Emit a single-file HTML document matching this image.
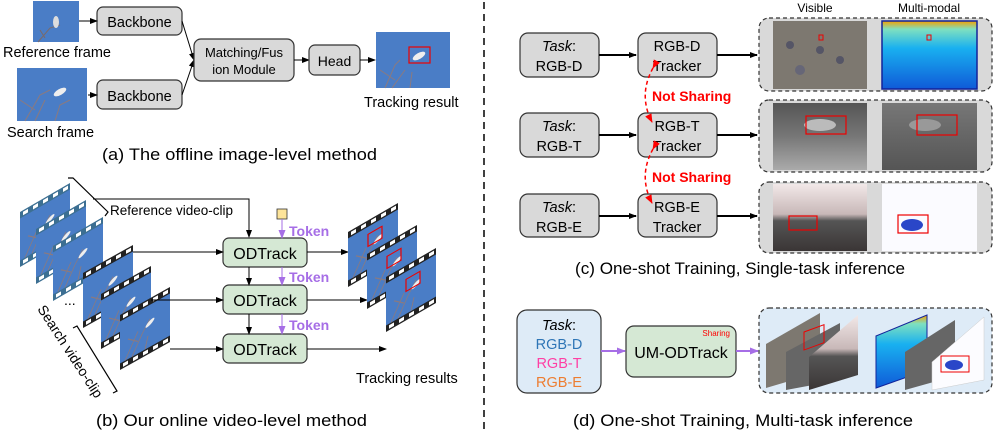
<!DOCTYPE html>
<html><head><meta charset="utf-8"><style>
html,body{margin:0;padding:0;background:#fff;}
svg{display:block;font-family:"Liberation Sans",sans-serif;}
</style></head><body>
<svg width="996" height="433" viewBox="0 0 996 433" xmlns="http://www.w3.org/2000/svg">
<defs>
<marker id="ah" markerWidth="8" markerHeight="8" refX="7" refY="4" orient="auto" markerUnits="userSpaceOnUse"><path d="M0,1 L8,4 L0,7z" fill="#000"/></marker>
<marker id="ahp" markerWidth="9" markerHeight="9" refX="8" refY="4.5" orient="auto" markerUnits="userSpaceOnUse"><path d="M0,1 L9,4.5 L0,8z" fill="#a66ee6"/></marker>
<marker id="ahr" markerWidth="9" markerHeight="9" refX="8" refY="4.5" orient="auto" markerUnits="userSpaceOnUse"><path d="M0,1 L9,4.5 L0,8z" fill="#f00"/></marker>
<g id="sky">
<rect width="50" height="42" fill="#4a7dc6"/>
<path d="M5,42 L18,20 M12,42 L22,25 L30,14 M18,30 L8,22 M25,42 L28,30" stroke="#8a7a80" stroke-width="1" fill="none"/>
<ellipse cx="30" cy="18" rx="5" ry="2" fill="#eee" transform="rotate(-30 30 18)"/>
</g>
<g id="filmR">
<rect width="50" height="55" fill="#3c6f92"/>
<g transform="translate(0,6.5)"><use href="#sky"/></g>
<g fill="#fff"><rect x="3" y="1.5" width="5" height="3.5"/><rect x="13" y="1.5" width="5" height="3.5"/><rect x="23" y="1.5" width="5" height="3.5"/><rect x="33" y="1.5" width="5" height="3.5"/><rect x="43" y="1.5" width="5" height="3.5"/>
<rect x="3" y="50" width="5" height="3.5"/><rect x="13" y="50" width="5" height="3.5"/><rect x="23" y="50" width="5" height="3.5"/><rect x="33" y="50" width="5" height="3.5"/><rect x="43" y="50" width="5" height="3.5"/></g>
</g>
<g id="filmB">
<rect width="50" height="55" fill="#222"/>
<g transform="translate(0,6.5)"><use href="#sky"/></g>
<g fill="#fff"><rect x="3" y="1.5" width="5" height="3.5"/><rect x="13" y="1.5" width="5" height="3.5"/><rect x="23" y="1.5" width="5" height="3.5"/><rect x="33" y="1.5" width="5" height="3.5"/><rect x="43" y="1.5" width="5" height="3.5"/>
<rect x="3" y="50" width="5" height="3.5"/><rect x="13" y="50" width="5" height="3.5"/><rect x="23" y="50" width="5" height="3.5"/><rect x="33" y="50" width="5" height="3.5"/><rect x="43" y="50" width="5" height="3.5"/></g>
</g>
<g id="filmBR"><use href="#filmB"/><rect x="20" y="14" width="14" height="12" fill="none" stroke="#e00" stroke-width="1.2"/></g>
<linearGradient id="depth" x1="0" y1="0" x2="0" y2="1"><stop offset="0" stop-color="#f5a000"/><stop offset="0.12" stop-color="#7fe0c0"/><stop offset="0.4" stop-color="#19b0f0"/><stop offset="1" stop-color="#0f5ad8"/></linearGradient>
<linearGradient id="therm" x1="0" y1="0" x2="0" y2="1"><stop offset="0" stop-color="#777"/><stop offset="1" stop-color="#555"/></linearGradient>
<linearGradient id="vis2" x1="0" y1="0" x2="0" y2="1"><stop offset="0" stop-color="#555"/><stop offset="0.5" stop-color="#777"/><stop offset="1" stop-color="#aaa"/></linearGradient>
<linearGradient id="vis3" x1="0" y1="0" x2="0" y2="1"><stop offset="0" stop-color="#f2e8e8"/><stop offset="0.45" stop-color="#c8b8b8"/><stop offset="0.55" stop-color="#555"/><stop offset="1" stop-color="#3a3535"/></linearGradient>
</defs>

<!-- (a) -->
<rect x="33" y="1" width="46" height="41" fill="#4a7dc6"/>
<path d="M38,42 L50,28 L60,25 M45,38 L40,30" stroke="#7a6a6a" fill="none"/>
<ellipse cx="56" cy="22" rx="3" ry="6" fill="#ddd"/>
<rect x="17" y="68" width="70" height="53" fill="#4a7dc6"/>
<path d="M25,121 L40,95 L50,90 M35,121 L45,100 M55,121 L60,105 L70,100 M20,100 L35,110" stroke="#8a7a80" fill="none"/>
<ellipse cx="60" cy="92" rx="7" ry="3" fill="#eee" transform="rotate(-30 60 92)"/>
<text x="3" y="57" font-size="14.5">Reference frame</text>
<text x="7" y="137" font-size="14.5">Search frame</text>
<rect x="97" y="7" width="85" height="28" rx="6" fill="#d9d9d9" stroke="#333" stroke-width="1.2"/>
<text x="139.5" y="27" font-size="14.5" text-anchor="middle">Backbone</text>
<rect x="97" y="80" width="85" height="29" rx="6" fill="#d9d9d9" stroke="#333" stroke-width="1.2"/>
<text x="139.5" y="101" font-size="14.5" text-anchor="middle">Backbone</text>
<line x1="79" y1="21" x2="97" y2="21" stroke="#000" marker-end="url(#ah)"/>
<line x1="88" y1="95" x2="97" y2="95" stroke="#000" marker-end="url(#ah)"/>
<line x1="182" y1="21" x2="194" y2="60" stroke="#000" marker-end="url(#ah)"/>
<line x1="182" y1="95" x2="194" y2="60" stroke="#000" marker-end="url(#ah)"/>
<rect x="194" y="39" width="100" height="42" rx="7" fill="#d9d9d9" stroke="#333" stroke-width="1.2"/>
<text x="244" y="57" font-size="13" text-anchor="middle">Matching/Fus</text>
<text x="244" y="74" font-size="13" text-anchor="middle">ion Module</text>
<line x1="294" y1="60" x2="309" y2="60" stroke="#000" marker-end="url(#ah)"/>
<rect x="309" y="45" width="51" height="30" rx="6" fill="#d9d9d9" stroke="#333" stroke-width="1.2"/>
<text x="334.5" y="66" font-size="14" text-anchor="middle">Head</text>
<line x1="360" y1="60" x2="375" y2="60" stroke="#000" marker-end="url(#ah)"/>
<rect x="376" y="32" width="74" height="56" fill="#4a7dc6"/>
<path d="M385,88 L395,65 L400,60 M392,88 L405,70 M410,88 L412,72 M380,70 L395,80" stroke="#8a7a80" fill="none"/>
<ellipse cx="419" cy="56" rx="7" ry="3" fill="#eee" transform="rotate(-30 419 56)"/>
<rect x="409" y="47" width="21" height="16" fill="none" stroke="#e00" stroke-width="1.2"/>
<text x="364" y="107" font-size="14.5">Tracking result</text>
<text x="102" y="160" font-size="17" textLength="275" lengthAdjust="spacingAndGlyphs">(a) The offline image-level method</text>

<!-- (b) -->
<use href="#filmR" transform="matrix(1,-0.58,0,1,20,212)"/>
<use href="#filmR" transform="matrix(1,-0.58,0,1,36,229)"/>
<use href="#filmR" transform="matrix(1,-0.58,0,1,53,246)"/>
<path d="M68,178 L73,178 L108,212 L105,216" stroke="#000" fill="none" stroke-width="1.2"/>
<text x="110" y="215" font-size="13.5">Reference video-clip</text>
<polyline points="93,199 249,199 249,237" fill="none" stroke="#000" marker-end="url(#ah)"/>
<use href="#filmB" transform="matrix(1,-0.56,0,1,83,273)"/>
<use href="#filmB" transform="matrix(1,-0.56,0,1,101,294)"/>
<use href="#filmB" transform="matrix(1,-0.56,0,1,120,315)"/>
<text x="64" y="305" font-size="14">...</text>
<path d="M73,328 L77,326 L117,391 L113,393" stroke="#000" fill="none" stroke-width="1.2"/>
<text transform="translate(37,309) rotate(57)" font-size="14">Search video-clip</text>
<rect x="223" y="238" width="84" height="29" rx="6" fill="#d5e8d4" stroke="#333" stroke-width="1.2"/>
<rect x="223" y="285" width="84" height="29" rx="6" fill="#d5e8d4" stroke="#333" stroke-width="1.2"/>
<rect x="223" y="334" width="84" height="29" rx="6" fill="#d5e8d4" stroke="#333" stroke-width="1.2"/>
<text x="265" y="259" font-size="16" text-anchor="middle">ODTrack</text>
<text x="265" y="306" font-size="16" text-anchor="middle">ODTrack</text>
<text x="265" y="355" font-size="16" text-anchor="middle">ODTrack</text>
<line x1="249" y1="267" x2="249" y2="285" stroke="#000" marker-end="url(#ah)"/>
<line x1="249" y1="314" x2="249" y2="334" stroke="#000" marker-end="url(#ah)"/>
<rect x="277" y="209" width="10" height="10" fill="#fde49a" stroke="#333" stroke-width="0.8"/>
<line x1="282" y1="219" x2="282" y2="238" stroke="#a66ee6" marker-end="url(#ahp)"/>
<line x1="282" y1="267" x2="282" y2="285" stroke="#a66ee6" marker-end="url(#ahp)"/>
<line x1="282" y1="314" x2="282" y2="334" stroke="#a66ee6" marker-end="url(#ahp)"/>
<g fill="#a66ee6" font-size="14" font-weight="bold"><text x="289" y="236">Token</text><text x="289" y="282">Token</text><text x="289" y="330">Token</text></g>
<line x1="133" y1="252" x2="223" y2="252" stroke="#000" marker-end="url(#ah)"/>
<line x1="151" y1="300" x2="223" y2="300" stroke="#000" marker-end="url(#ah)"/>
<line x1="170" y1="349" x2="223" y2="349" stroke="#000" marker-end="url(#ah)"/>
<line x1="307" y1="252" x2="348" y2="252" stroke="#000" marker-end="url(#ah)"/>
<line x1="307" y1="300" x2="367" y2="300" stroke="#000" marker-end="url(#ah)"/>
<line x1="307" y1="349" x2="386" y2="349" stroke="#000" marker-end="url(#ah)"/>
<use href="#filmBR" transform="matrix(1,-0.58,0,1,348,232)"/>
<use href="#filmBR" transform="matrix(1,-0.58,0,1,367,254)"/>
<use href="#filmBR" transform="matrix(1,-0.58,0,1,386,277)"/>
<text x="356" y="383" font-size="14.5">Tracking results</text>
<text x="96" y="426" font-size="17" textLength="271" lengthAdjust="spacingAndGlyphs">(b) Our online video-level method</text>

<!-- divider -->
<line x1="484" y1="2" x2="484" y2="433" stroke="#000" stroke-width="1.5" stroke-dasharray="7,5"/>

<!-- (c) -->
<text x="815" y="12" font-size="12" text-anchor="middle">Visible</text>
<text x="929" y="12" font-size="12" text-anchor="middle">Multi-modal</text>
<g font-size="14.5" text-anchor="middle">
<rect x="520" y="33" width="79" height="44" rx="8" fill="#d9d9d9" stroke="#333" stroke-width="1.2"/>
<text x="559" y="51"><tspan font-style="italic">Task</tspan>:</text><text x="559" y="71">RGB-D</text>
<rect x="520" y="113" width="79" height="44" rx="8" fill="#d9d9d9" stroke="#333" stroke-width="1.2"/>
<text x="559" y="131"><tspan font-style="italic">Task</tspan>:</text><text x="559" y="151">RGB-T</text>
<rect x="520" y="194" width="79" height="43" rx="8" fill="#d9d9d9" stroke="#333" stroke-width="1.2"/>
<text x="559" y="212"><tspan font-style="italic">Task</tspan>:</text><text x="559" y="232">RGB-E</text>
<rect x="638" y="33" width="79" height="44" rx="8" fill="#d9d9d9" stroke="#333" stroke-width="1.2"/>
<text x="677" y="51">RGB-D</text><text x="677" y="71">Tracker</text>
<rect x="638" y="113" width="79" height="44" rx="8" fill="#d9d9d9" stroke="#333" stroke-width="1.2"/>
<text x="677" y="131">RGB-T</text><text x="677" y="151">Tracker</text>
<rect x="638" y="194" width="79" height="43" rx="8" fill="#d9d9d9" stroke="#333" stroke-width="1.2"/>
<text x="677" y="212">RGB-E</text><text x="677" y="232">Tracker</text>
</g>
<g stroke="#000" stroke-width="2">
<line x1="599" y1="55" x2="636" y2="55" marker-end="url(#ah)"/>
<line x1="599" y1="135" x2="636" y2="135" marker-end="url(#ah)"/>
<line x1="599" y1="216" x2="636" y2="216" marker-end="url(#ah)"/>
<line x1="717" y1="55" x2="757" y2="55" marker-end="url(#ah)"/>
<line x1="717" y1="135" x2="757" y2="135" marker-end="url(#ah)"/>
<line x1="717" y1="216" x2="757" y2="216" marker-end="url(#ah)"/>
</g>
<path d="M653,68 Q638,95 652,122" fill="none" stroke="#f00" stroke-width="1.5" stroke-dasharray="4,3" marker-start="url(#ahr)" marker-end="url(#ahr)"/>
<path d="M653,149 Q638,176 652,203" fill="none" stroke="#f00" stroke-width="1.5" stroke-dasharray="4,3" marker-start="url(#ahr)" marker-end="url(#ahr)"/>
<g fill="#f00" font-size="14" font-weight="bold"><text x="652" y="101">Not Sharing</text><text x="652" y="182">Not Sharing</text></g>
<g fill="#d9d9d9" stroke="#333" stroke-dasharray="4,3" stroke-width="1.2">
<rect x="759" y="18" width="233" height="73" rx="10"/>
<rect x="759" y="100" width="233" height="72" rx="10"/>
<rect x="759" y="182" width="233" height="71" rx="10"/>
</g>
<rect x="773" y="21" width="94" height="68" fill="#7d7870"/>
<circle cx="790" cy="45" r="4" fill="#556"/><circle cx="820" cy="50" r="4" fill="#556"/><circle cx="840" cy="60" r="4" fill="#556"/><circle cx="800" cy="70" r="5" fill="#667"/>
<rect x="819" y="35" width="4" height="5" fill="none" stroke="#e00"/>
<rect x="882" y="21" width="95" height="68" fill="url(#depth)" stroke="#12239a" stroke-width="1.5"/>
<rect x="927" y="35" width="4" height="5" fill="none" stroke="#e00"/>
<rect x="773" y="103" width="94" height="67" fill="url(#vis2)"/>
<ellipse cx="820" cy="125" rx="16" ry="6" fill="#bbb"/>
<rect x="806" y="116" width="40" height="18" fill="none" stroke="#e00" stroke-width="1.2"/>
<rect x="882" y="103" width="95" height="67" fill="url(#therm)"/>
<ellipse cx="925" cy="125" rx="16" ry="6" fill="#999"/>
<rect x="917" y="115" width="40" height="20" fill="none" stroke="#e00" stroke-width="1.2"/>
<rect x="773" y="184" width="94" height="67" fill="url(#vis3)"/>
<rect x="789" y="216" width="28" height="14" fill="none" stroke="#e00" stroke-width="1.2"/>
<rect x="882" y="184" width="95" height="67" fill="#fbfbff"/>
<ellipse cx="912" cy="225" rx="11" ry="6" fill="#2a46c8"/>
<rect x="898" y="215" width="30" height="18" fill="none" stroke="#e00" stroke-width="1.2"/>
<text x="575" y="274" font-size="17" textLength="330" lengthAdjust="spacingAndGlyphs">(c) One-shot Training, Single-task inference</text>

<!-- (d) -->
<rect x="517" y="310" width="84" height="83" rx="10" fill="#deebf7" stroke="#333" stroke-width="1.2"/>
<g font-size="14.5" text-anchor="middle">
<text x="559" y="330"><tspan font-style="italic">Task</tspan>:</text>
<text x="559" y="349" fill="#2e75b6">RGB-D</text>
<text x="559" y="368" fill="#ff3fa4">RGB-T</text>
<text x="559" y="387" fill="#ed7d31">RGB-E</text>
</g>
<line x1="601" y1="351" x2="625" y2="351" stroke="#a66ee6" stroke-width="2" marker-end="url(#ahp)"/>
<rect x="626" y="326" width="110" height="51" rx="8" fill="#d5e8d4" stroke="#333" stroke-width="1.2"/>
<text x="730" y="336" font-size="8" fill="#f00" text-anchor="end">Sharing</text>
<text x="681" y="358" font-size="16" text-anchor="middle">UM-ODTrack</text>
<line x1="736" y1="351" x2="758" y2="351" stroke="#a66ee6" stroke-width="2" marker-end="url(#ahp)"/>
<rect x="759" y="308" width="233" height="85" rx="10" fill="#deebf7" stroke="#333" stroke-dasharray="4,3" stroke-width="1.2"/>
<polygon points="766,344 820,313 820,372 766,388" fill="#7d7870"/>
<polygon points="786,352 840,323 840,380 786,390" fill="#666"/>
<rect x="804" y="332" width="20" height="18" fill="none" stroke="#e00" transform="skewY(-20)" transform-origin="804 340"/>
<polygon points="809,357 858,315 858,375 809,390" fill="url(#vis3)"/>
<polygon points="876,336 927,315 927,370 876,388" fill="url(#depth)" stroke="#12239a"/>
<polygon points="905,352 955,320 955,376 905,390" fill="#666"/>
<polygon points="932,362 984,317 984,380 932,390" fill="#fcfcff" stroke="#ccc" stroke-width="0.5"/>
<ellipse cx="954" cy="365" rx="9" ry="5" fill="#2a46c8"/>
<rect x="941" y="356" width="28" height="16" fill="none" stroke="#e00"/>
<text x="573" y="426" font-size="17" textLength="340" lengthAdjust="spacingAndGlyphs">(d) One-shot Training, Multi-task inference</text>
</svg>
</body></html>
